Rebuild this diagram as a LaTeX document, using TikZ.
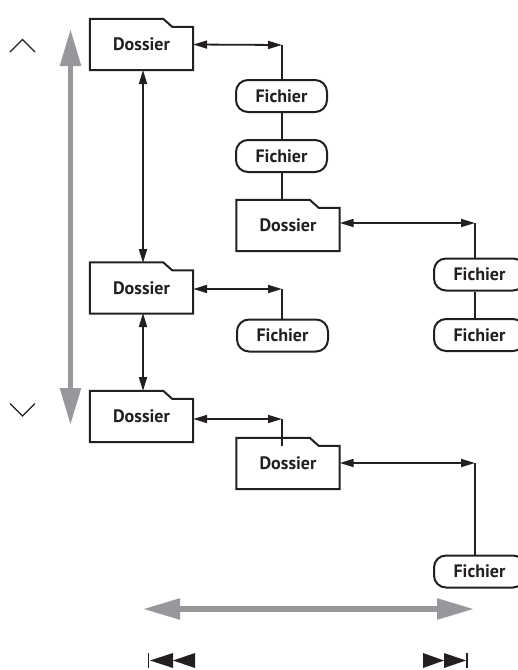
\documentclass[tikz,border=0pt]{standalone}
\usepackage{fontspec}
\setmainfont{PT Sans}
\usetikzlibrary{arrows.meta,calc}
\definecolor{ink}{RGB}{35,31,32}
\definecolor{bigarrow}{RGB}{152,152,156}
\tikzset{
  folderbox/.style={minimum width=103pt, minimum height=51pt, inner sep=0pt, font=\bfseries\fontsize{18}{20}\selectfont, text=ink},
  filebox/.style={draw=ink, line width=2pt, rounded corners=12pt, minimum width=91pt, minimum height=32pt, inner sep=0pt, font=\bfseries\fontsize{18}{20}\selectfont, text=ink, fill=white},
  outline/.style={draw=ink, line width=2pt, line join=miter},
  link/.style={draw=ink, line width=1.8pt},
  dbl/.style={link, {Triangle[length=14pt,width=8pt]}-{Triangle[length=14pt,width=8pt]}},
  grayarrow/.style={draw=bigarrow, line width=5.5pt, {Triangle[length=37pt,width=20pt]}-{Triangle[length=37pt,width=20pt]}},
  chevron/.style={draw=ink, line width=1.3pt},
  skip/.style={fill=ink}
}
\begin{document}
\begin{tikzpicture}[x=1pt,y=-1pt]
\clip (0,0) rectangle (518,670);
\useasboundingbox (0,0) rectangle (518,670);

% folders
\node[folderbox] (d1) at (141.5,44.5) {Dossier};
\node[folderbox] (d2) at (288,225.5) {Dossier};
\node[folderbox] (d3) at (141.5,288) {Dossier};
\node[folderbox] (d4) at (141.5,416.5) {Dossier};
\node[folderbox] (d5) at (288,463.5) {Dossier};
\foreach \n in {d1,d2,d3,d4,d5}
  \draw[outline] (\n.north west) -- ([xshift=-30pt]\n.north east) -- ([xshift=-21pt,yshift=-8pt]\n.north east) -- ([yshift=-8pt]\n.north east) -- (\n.south east) -- (\n.south west) -- cycle;

% files
\node[filebox] (f1) at (281.5,96) {Fichier};
\node[filebox] (f2) at (281.5,156) {Fichier};
\node[filebox] (f3) at (479.5,274.5) {Fichier};
\node[filebox] (f4) at (479.5,335) {Fichier};
\node[filebox] (f5) at (282.5,335.5) {Fichier};
\node[filebox] (f6) at (479.5,571.5) {Fichier};

% corners
\coordinate (c1) at (282,45);
\coordinate (c2) at (475,223);
\coordinate (c3) at (282,289);
\coordinate (c4) at (282,419);
\coordinate (c5) at (475,463);

\draw[dbl] (d1.east) -- (c1);
\draw[link] (c1) -- (c1 |- f1.north);
\draw[link] (c1 |- f1.south) -- (c1 |- f2.north);
\draw[link] (c1 |- f2.south) -- (c1 |- d2.north);

\draw[dbl] (d2.east |- c2) -- (c2);
\draw[link] (c2) -- (c2 |- f3.north);
\draw[link] (c2 |- f3.south) -- (c2 |- f4.north);

\draw[dbl] (d3.east |- c3) -- (c3);
\draw[link] (c3) -- (c3 |- f5.north);

\draw[dbl] (d4.east |- c4) -- (c4);
\draw[link] (c4) -- ([yshift=-8pt]c4 |- d5.north);

\draw[dbl] (d5.east |- c5) -- (c5);
\draw[link] (c5) -- (c5 |- f6.north);

% vertical links between folders
\coordinate (v1) at (143,70);
\coordinate (v2) at (143,263);
\coordinate (v3) at (143,313);
\coordinate (v4) at (143,391);
\draw[dbl] (v1) -- (v2);
\draw[dbl] (v3) -- (v4);

% big gray arrows
\coordinate (gt) at (70.5,29);
\coordinate (gb) at (70.5,425);
\draw[grayarrow] (gt) -- (gb);
\coordinate (gl) at (143,609);
\coordinate (gr) at (474,609);
\draw[grayarrow] (gl) -- (gr);

% chevrons
\draw[chevron] (10,52) -- (22.5,39.5) -- (35,52);
\draw[chevron] (10,403.5) -- (22.5,416) -- (35,403.5);

% skip symbols
\draw[draw=ink, line width=1.8pt] (148.5,653) -- (148.5,668);
\fill[skip] (150,660.5) -- (173,653) -- (173,668) -- cycle;
\fill[skip] (173,660.5) -- (195,653) -- (195,668) -- cycle;
\fill[skip] (423,653) -- (444,660.5) -- (423,668) -- cycle;
\fill[skip] (444,653) -- (466,660.5) -- (444,668) -- cycle;
\draw[draw=ink, line width=1.8pt] (467,653) -- (467,668);
\end{tikzpicture}
\end{document}
